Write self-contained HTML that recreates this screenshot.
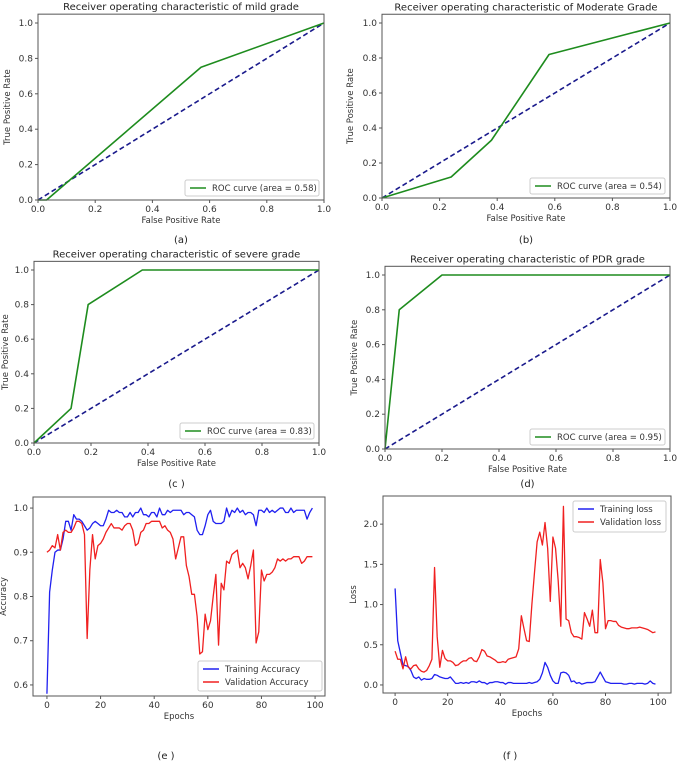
<!DOCTYPE html>
<html><head><meta charset="utf-8">
<style>
html,body{margin:0;padding:0;background:#fff;}
svg{display:block;font-family:"DejaVu Sans","Liberation Sans",sans-serif;}
</style></head>
<body>
<svg id="fig" width="677" height="761" viewBox="0 0 677 761" xmlns="http://www.w3.org/2000/svg"></svg>
<script>
// ROC data
const rocA_fpr=[0,0.03,0.57,1], rocA_tpr=[0,0,0.75,1];
const rocB_fpr=[0,0.24,0.38,0.58,1], rocB_tpr=[0,0.12,0.33,0.82,1];
const rocC_fpr=[0,0.13,0.19,0.38,1], rocC_tpr=[0,0.2,0.8,1,1];
const rocD_fpr=[0,0.05,0.2,1], rocD_tpr=[0,0.8,1,1];
const diagX=[0,1], diagY=[0,1];
const rocTicks=[0,0.2,0.4,0.6,0.8,1.0];
const rocTickLabels=["0.0","0.2","0.4","0.6","0.8","1.0"];
// training curves
const trainAcc=[0.58,0.81,0.86,0.90,0.905,0.905,0.93,0.97,0.97,0.95,0.985,0.975,0.975,0.97,0.96,0.95,0.955,0.965,0.97,0.965,0.96,0.96,0.975,0.995,0.99,0.99,0.995,0.99,0.99,0.98,0.98,0.99,0.98,0.99,0.99,1.0,0.985,0.985,0.98,0.99,0.99,0.98,1.0,0.985,0.985,0.995,0.99,0.995,0.995,0.995,0.995,0.985,0.99,0.99,0.985,0.98,0.95,0.94,0.94,0.96,0.985,0.995,0.97,0.965,0.965,0.965,0.97,1.0,0.98,0.995,0.99,1.0,0.99,0.995,0.985,0.99,0.99,0.985,0.96,0.995,0.995,0.99,1.0,0.99,0.995,0.99,0.995,1.0,1.0,0.99,0.99,1.0,0.99,0.995,0.995,0.995,0.995,0.975,0.99,1.0];
const valAcc=[0.90,0.905,0.915,0.91,0.94,0.905,0.945,0.95,0.945,0.945,0.955,0.97,0.97,0.965,0.94,0.705,0.86,0.94,0.885,0.915,0.92,0.93,0.945,0.955,0.965,0.955,0.955,0.955,0.95,0.96,0.965,0.965,0.95,0.915,0.92,0.945,0.95,0.965,0.965,0.97,0.97,0.97,0.97,0.955,0.96,0.95,0.945,0.93,0.885,0.91,0.935,0.935,0.87,0.845,0.805,0.805,0.755,0.67,0.675,0.76,0.725,0.745,0.80,0.85,0.69,0.83,0.815,0.88,0.875,0.895,0.9,0.905,0.865,0.875,0.865,0.84,0.87,0.905,0.695,0.72,0.86,0.835,0.85,0.85,0.855,0.865,0.885,0.88,0.885,0.88,0.885,0.885,0.89,0.89,0.89,0.875,0.88,0.89,0.89,0.89];
const trainLoss=[1.2,0.55,0.4,0.25,0.24,0.23,0.18,0.1,0.08,0.1,0.06,0.08,0.07,0.07,0.08,0.13,0.12,0.1,0.09,0.08,0.08,0.1,0.06,0.02,0.02,0.03,0.02,0.03,0.02,0.04,0.04,0.03,0.05,0.03,0.03,0.01,0.03,0.03,0.04,0.04,0.03,0.03,0.01,0.03,0.03,0.02,0.02,0.02,0.02,0.02,0.02,0.03,0.02,0.03,0.04,0.07,0.15,0.28,0.22,0.12,0.05,0.02,0.02,0.15,0.16,0.15,0.12,0.04,0.05,0.02,0.03,0.01,0.02,0.03,0.03,0.03,0.04,0.1,0.16,0.1,0.04,0.03,0.02,0.02,0.02,0.02,0.02,0.01,0.01,0.02,0.02,0.01,0.02,0.02,0.02,0.01,0.02,0.05,0.02,0.01];
const valLoss=[0.42,0.32,0.32,0.2,0.35,0.22,0.2,0.24,0.25,0.2,0.17,0.16,0.18,0.24,0.32,1.46,0.6,0.22,0.43,0.33,0.3,0.3,0.28,0.24,0.25,0.28,0.3,0.3,0.33,0.34,0.3,0.29,0.35,0.44,0.42,0.36,0.35,0.33,0.31,0.28,0.28,0.29,0.28,0.32,0.33,0.34,0.35,0.45,0.86,0.7,0.55,0.54,1.0,1.4,1.78,1.9,1.74,2.02,1.7,1.04,1.84,1.7,1.3,0.73,2.22,0.82,0.8,0.65,0.6,0.6,0.59,0.57,0.9,0.82,0.73,0.93,0.65,0.65,1.56,1.27,0.7,0.8,0.8,0.79,0.79,0.74,0.72,0.71,0.7,0.7,0.71,0.71,0.71,0.72,0.71,0.7,0.69,0.67,0.65,0.66];
const epochTicks=[0,20,40,60,80,100];
const accTicks=[0.6,0.7,0.8,0.9,1.0];
const accTickLabels=["0.6","0.7","0.8","0.9","1.0"];
const lossTicks=[0,0.5,1.0,1.5,2.0];
const lossTickLabels=["0.0","0.5","1.0","1.5","2.0"];

const NS="http://www.w3.org/2000/svg";
const svg=document.getElementById('fig');
function el(tag,attrs,parent){const e=document.createElementNS(NS,tag);for(const k in attrs)e.setAttribute(k,attrs[k]);(parent||svg).appendChild(e);return e;}
function txt(s,attrs,parent){const t=el('text',attrs,parent);t.textContent=s;return t;}

function plot(c){
  const g=el('g',{});
  
  
  const sx=v=>c.L+(v-c.xlim[0])/(c.xlim[1]-c.xlim[0])*(c.R-c.L);
  const sy=v=>c.B-(v-c.ylim[0])/(c.ylim[1]-c.ylim[0])*(c.B-c.T);
  // series
  c.series.forEach(s=>{
    const d=s.x.map((x,i)=>(i?'L':'M')+sx(x).toFixed(2)+','+sy(s.y[i]).toFixed(2)).join('');
    const p=el('path',{d:d,fill:'none',stroke:s.color,'stroke-width':s.w||1.5,'stroke-dasharray':s.dash||'none','stroke-linejoin':'round'},g);
    
    
  });
  // frame
  const fr=el('rect',{x:c.L,y:c.T,width:c.R-c.L,height:c.B-c.T,fill:'none',stroke:'#555','stroke-width':1},g);
  
  
  // x ticks
  c.xticks.forEach((v,i)=>{
    const x=sx(v);
    el('line',{x1:x,x2:x,y1:c.B,y2:c.B+3,stroke:'#555','stroke-width':1},g);
    const t=txt(c.xlabels[i],{x:x,y:c.B+12,'font-size':9,fill:'#333','text-anchor':'middle'},g);
    
    
  });
  c.yticks.forEach((v,i)=>{
    const y=sy(v);
    el('line',{x1:c.L-3,x2:c.L,y1:y,y2:y,stroke:'#555','stroke-width':1},g);
    const t=txt(c.ylabels[i],{x:c.L-5,y:y+3,'font-size':9,fill:'#333','text-anchor':'end'},g);
    
    
  });
  if(c.title){const t=txt(c.title,{x:(c.L+c.R)/2,y:c.T-4,'font-size':10,fill:'#222','text-anchor':'middle'},g);
    
    }
  const xl=txt(c.xtitle,{x:(c.L+c.R)/2,y:c.B+23,'font-size':8.5,fill:'#333','text-anchor':'middle'},g);
  
  
  const yx=c.ytx, yy=(c.T+c.B)/2;
  const yl=txt(c.ytitle,{x:yx,y:yy,'font-size':8.5,fill:'#333','text-anchor':'middle',transform:'rotate(-90 '+yx+' '+yy+')'},g);
  
  
  // legend
  const lg=c.legend;
  const lgG=el('g',{},g);
  
  
  el('rect',{x:lg.x,y:lg.y,width:lg.w,height:lg.h,fill:'#fff',stroke:'#ccc','stroke-width':1,rx:2},lgG);
  lg.items.forEach((it,i)=>{
    const y=lg.y+8+i*13;
    el('line',{x1:lg.x+5,x2:lg.x+21,y1:y,y2:y,stroke:it.color,'stroke-width':1.5},lgG);
    const t=txt(it.label,{x:lg.x+27,y:y+3,'font-size':8.5,fill:'#333'},lgG);
    
    
  });
  const cap=txt(c.caption,{x:c.capX,y:c.capY,'font-size':10,fill:'#222','text-anchor':'middle'},g);
  
  
}

function roc(name,title,L,R,T1,B,fpr,tpr,area,cap,capY,ytx,lx){
  const T=B-(B-T1)*1.05;
  plot({name:name,title:title,L:L,R:R,T:T,B:B,xlim:[0,1],ylim:[0,1.05],
    xticks:rocTicks,xlabels:rocTickLabels,yticks:rocTicks,ylabels:rocTickLabels,
    xtitle:'False Positive Rate',ytitle:'True Positive Rate',ytx:ytx,
    series:[{name:'diagonal-line',x:diagX,y:diagY,color:'#1a1a8c',dash:'5,3',w:1.6},
            {name:'roc-curve',x:fpr,y:tpr,color:'#1e8c1e',w:1.6}],
    legend:{x:lx,y:B-20,w:R-lx-5,h:16,items:[{label:'ROC curve (area = '+area+')',color:'#1e8c1e'}]},
    caption:cap,capX:(L+R)/2,capY:capY});
}
roc('roc-mild','Receiver operating characteristic of mild grade',38,324,23,200,rocA_fpr,rocA_tpr,'0.58','(a)',243,10,185);
roc('roc-moderate','Receiver operating characteristic of Moderate Grade',382,670,23,198,rocB_fpr,rocB_tpr,'0.54','(b)',243,353,530);
roc('roc-severe','Receiver operating characteristic of severe grade',34,319,270,443,rocC_fpr,rocC_tpr,'0.83','(c )',487,8,180);
roc('roc-pdr','Receiver operating characteristic of PDR grade',385,670,275,449,rocD_fpr,rocD_tpr,'0.95','(d)',487,357,530);

const epochs=trainAcc.map((_,i)=>i);
plot({name:'accuracy-chart',title:'',L:33,R:325,T:497,B:696,xlim:[-5.2,103.7],ylim:[0.575,1.025],
  xticks:epochTicks,xlabels:epochTicks.map(String),yticks:accTicks,ylabels:accTickLabels,
  xtitle:'Epochs',ytitle:'Accuracy',ytx:6,
  series:[{name:'training-accuracy-line',x:epochs,y:trainAcc,color:'#2020f0',w:1.3},
          {name:'validation-accuracy-line',x:epochs,y:valAcc,color:'#f02020',w:1.3}],
  legend:{x:198,y:661,w:124,h:30,items:[{label:'Training Accuracy',color:'#2020f0'},{label:'Validation Accuracy',color:'#f02020'}]},
  caption:'(e )',capX:166,capY:759});
plot({name:'loss-chart',title:'',L:383,R:671,T:496,B:693,xlim:[-4.6,104.9],ylim:[-0.1,2.35],
  xticks:epochTicks,xlabels:epochTicks.map(String),yticks:lossTicks,ylabels:lossTickLabels,
  xtitle:'Epochs',ytitle:'Loss',ytx:356,
  series:[{name:'training-loss-line',x:epochs,y:trainLoss,color:'#2020f0',w:1.3},
          {name:'validation-loss-line',x:epochs,y:valLoss,color:'#f02020',w:1.3}],
  legend:{x:573,y:501,w:93,h:31,items:[{label:'Training loss',color:'#2020f0'},{label:'Validation loss',color:'#f02020'}]},
  caption:'(f )',capX:510,capY:759});
</script>
</body></html>
